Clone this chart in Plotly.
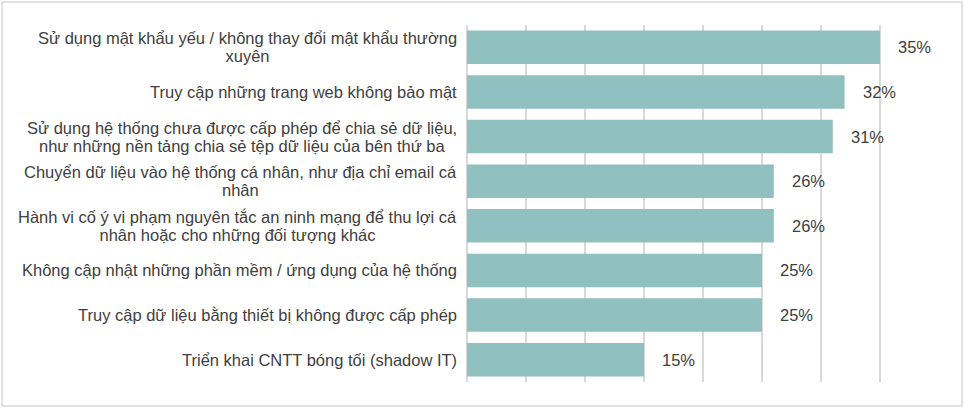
import json
import plotly.graph_objects as go

categories = [
    "Sử dụng mật khẩu yếu / không thay đổi mật khẩu thường<br>xuyên",
    "Truy cập những trang web không bảo mật",
    "Sử dụng hệ thống chưa được cấp phép để chia sẻ dữ liệu,<br>như những nền tảng chia sẻ tệp dữ liệu của bên thứ ba",
    "Chuyển dữ liệu vào hệ thống cá nhân, như địa chỉ email cá<br>nhân",
    "Hành vi cố ý vi phạm nguyên tắc an ninh mạng để thu lợi cá<br>nhân hoặc cho những đối tượng khác",
    "Không cập nhật những phần mềm / ứng dụng của hệ thống",
    "Truy cập dữ liệu bằng thiết bị không được cấp phép",
    "Triển khai CNTT bóng tối (shadow IT)",
]
values = [0.35, 0.32, 0.31, 0.26, 0.26, 0.25, 0.25, 0.15]
value_labels = ["35%", "32%", "31%", "26%", "26%", "25%", "25%", "15%"]

W, H = 964, 408
ML, MR, MT, MB = 467, 25, 25, 26
TEXT = "#404040"
GRID = "#d9d9d9"
FONT = "Liberation Sans, Arial, sans-serif"
FS = 16.5
LINE_H = 18

fig = go.Figure(go.Bar(
    x=values, y=categories, orientation="h",
    marker=dict(color="#91C0C0", line=dict(width=0)),
    hoverinfo="skip",
))

annotations = []
groups = []
for c, v, t in zip(categories, values, value_labels):
    annotations.append(dict(
        x=v, y=c, xref="x", yref="y", text=t, showarrow=False,
        xanchor="left", yanchor="middle", xshift=16,
        font=dict(family=FONT, size=FS, color=TEXT),
    ))
    lines = c.split("<br>")
    n = len(lines)
    grp = []
    for i, ln in enumerate(lines):
        grp.append(len(annotations))
        annotations.append(dict(
            x=0, y=c, xref="paper", yref="y", text=ln, showarrow=False,
            xanchor="right", yanchor="middle", xshift=-8,
            yshift=((n - 1) / 2 - i) * LINE_H,
            font=dict(family=FONT, size=FS, color=TEXT),
        ))
    if n > 1:
        groups.append(grp)

post = """
document.body.style.margin = '0';
var gd = document.getElementById('{plot_id}');
var groups = %s;
groups.forEach(function(grp){
  var els = grp.map(function(i){
    return gd.querySelector('g.annotation[data-index="' + i + '"]');
  });
  var widths = els.map(function(e){ return e ? e.getBBox().width : 0; });
  var maxW = Math.max.apply(null, widths);
  els.forEach(function(e, k){
    if(!e) return;
    var d = (maxW - widths[k]) / 2;
    e.setAttribute('transform', 'translate(' + (-d) + ',0)');
  });
});
""" % json.dumps(groups)

pw = W - ML - MR
ph = H - MT - MB
fig.add_shape(
    type="rect", xref="paper", yref="paper",
    x0=(2 - ML) / pw, x1=(962 - ML) / pw,
    y0=-(H - 2 - MT - ph) / ph, y1=(H - 2 - MB) / ph,
    line=dict(color=GRID, width=1.5), layer="below",
)

fig.update_layout(
    width=W, height=H,
    margin=dict(l=ML, r=MR, t=MT, b=MB),
    paper_bgcolor="white", plot_bgcolor="white",
    bargap=0.25,
    showlegend=False,
    annotations=annotations,
    xaxis=dict(
        range=[0, 0.40], dtick=0.05, showticklabels=False,
        showgrid=True, gridcolor=GRID, gridwidth=1.5,
        zeroline=True, zerolinecolor=GRID, zerolinewidth=1.5,
        fixedrange=True,
    ),
    yaxis=dict(
        autorange="reversed", showticklabels=False, showgrid=False,
        zeroline=False, fixedrange=True,
    ),
)

fig.write_html("out.html", post_script=post, config={"displayModeBar": False})
